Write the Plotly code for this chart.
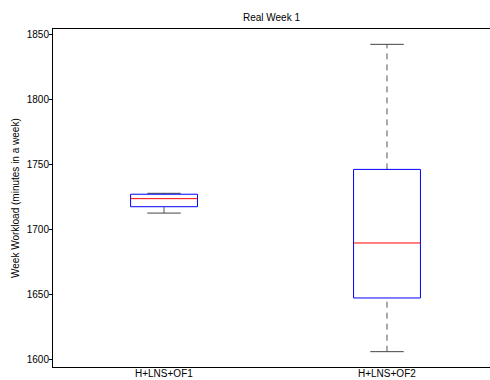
import plotly.graph_objects as go

# Summary statistics per scenario (minutes in a week)
categories = ["H+LNS+OF1", "H+LNS+OF2"]
lower_whisker = [1713.0, 1606.4]
q1 = [1717.9, 1647.7]
median = [1724.1, 1690.0]
q3 = [1727.5, 1746.6]
upper_whisker = [1728.2, 1842.8]

y_ticks = [1600, 1650, 1700, 1750, 1800, 1850]

positions = [1, 2]
box_half = 0.15
cap_half = 0.075

fig = go.Figure()

for pos, lo, a, m, b, hi in zip(positions, lower_whisker, q1, median, q3, upper_whisker):
    # dashed whiskers
    fig.add_trace(go.Scatter(x=[pos, pos], y=[b, hi], mode="lines",
                             line=dict(color="#555555", width=1, dash="6px,5px"),
                             hoverinfo="skip", showlegend=False))
    fig.add_trace(go.Scatter(x=[pos, pos], y=[lo, a], mode="lines",
                             line=dict(color="#555555", width=1, dash="6px,5px"),
                             hoverinfo="skip", showlegend=False))
    # whisker caps
    for v in (lo, hi):
        fig.add_trace(go.Scatter(x=[pos - cap_half, pos + cap_half], y=[v, v], mode="lines",
                                 line=dict(color="#444444", width=1),
                                 hoverinfo="skip", showlegend=False))
    # box
    fig.add_trace(go.Scatter(x=[pos - box_half, pos + box_half, pos + box_half, pos - box_half, pos - box_half],
                             y=[a, a, b, b, a], mode="lines",
                             line=dict(color="#0000ff", width=1),
                             hoverinfo="skip", showlegend=False))
    # median
    fig.add_trace(go.Scatter(x=[pos - box_half, pos + box_half], y=[m, m], mode="lines",
                             line=dict(color="#ff0000", width=1),
                             hoverinfo="skip", showlegend=False))

fig.update_layout(
    width=490, height=380,
    margin=dict(l=53, r=0, t=29, b=13),
    paper_bgcolor="white", plot_bgcolor="white",
    font=dict(family="Liberation Sans, Arial, sans-serif", size=10, color="black"),
    title=dict(text="Real Week 1", x=0.5, xref="paper", xanchor="center",
               y=1, yref="paper", yanchor="bottom", pad=dict(b=8),
               font=dict(size=10)),
    showlegend=False,
)

fig.update_xaxes(
    range=[0.502, 2.462], tickvals=positions, showticklabels=False,
    showgrid=False, zeroline=False, showline=True, linecolor="black", linewidth=1,
    mirror=True, ticks="", automargin=False,
)
fig.update_yaxes(
    range=[1594.6, 1854.6], tickvals=y_ticks,
    showgrid=False, zeroline=False, showline=True, linecolor="black", linewidth=1,
    ticks="outside", ticklen=3, tickcolor="black", automargin=False,
    ticklabelstandoff=-2, tickfont=dict(size=10),
)

# category labels under each box
for pos, name in zip(positions, categories):
    fig.add_annotation(text=name, x=pos, xref="x", y=-13 / 338, yref="paper",
                       xanchor="center", yanchor="bottom", borderpad=0,
                       showarrow=False, font=dict(size=10))

fig.add_annotation(text="Week Workload (minutes in a week)", textangle=-90,
                   x=-0.087, y=0.5, xref="paper", yref="paper",
                   xanchor="center", yanchor="middle",
                   showarrow=False, font=dict(size=10))

fig.write_html("out.html")
